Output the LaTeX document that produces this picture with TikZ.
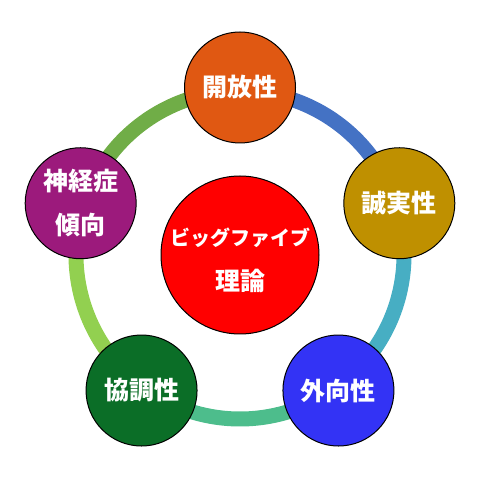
\documentclass[tikz,border=0pt]{standalone}
\usepackage{fontspec}
\usetikzlibrary{calc}
\newfontfamily\jp{Noto Sans CJK JP}
\definecolor{ringA}{HTML}{70AD47}
\definecolor{ringB}{HTML}{92D050}
\definecolor{ringC}{HTML}{4DBD8C}
\definecolor{ringD}{HTML}{47AEC3}
\definecolor{ringE}{HTML}{4472C4}
\definecolor{cOpen}{HTML}{E05812}
\definecolor{cCons}{HTML}{BF9000}
\definecolor{cExtra}{HTML}{3333F5}
\definecolor{cAgree}{HTML}{0B6E27}
\definecolor{cNeuro}{HTML}{9C1A7C}
\definecolor{cCenter}{HTML}{FF0000}
\tikzset{
  ringseg/.style={line width=15pt},
  trait/.style={circle, draw=black, line width=1pt, minimum size=111pt, inner sep=0pt,
    text=white, align=center, font=\jp\bfseries\fontsize{25}{44}\selectfont},
  core/.style={circle, draw=black, line width=1pt, minimum size=158pt, inner sep=0pt,
    fill=cCenter},
  coretext/.style={text=white, align=center, inner sep=0pt,
    font=\jp\bfseries\fontsize{20}{45}\selectfont},
}
\begin{document}
\begin{tikzpicture}[x=1pt,y=1pt]
\useasboundingbox (0,0) rectangle (480,480);
\coordinate (c) at (240,225);
% ring segments
\draw[ringseg, ringE] ([shift={(18:164)}]c) arc[start angle=18, end angle=90, radius=164];
\draw[ringseg, ringA] ([shift={(90:164)}]c) arc[start angle=90, end angle=162, radius=164];
\draw[ringseg, ringB] ([shift={(162:164)}]c) arc[start angle=162, end angle=234, radius=164];
\draw[ringseg, ringC] ([shift={(234:164)}]c) arc[start angle=234, end angle=306, radius=164];
\draw[ringseg, ringD] ([shift={(306:164)}]c) arc[start angle=306, end angle=378, radius=164];
% nodes
\node[core] (center) at (c) {};
\node[coretext] (centertext) at ($(c)+(0,-5)$) {ビッグファイブ\\{\fontsize{25}{45}\selectfont 理論}};
\node[trait, fill=cOpen]  (open)  at ($(c)+(90:167.5)$)  {開放性};
\node[trait, fill=cCons]  (cons)  at ($(c)+(18:167.5)$)  {誠実性};
\node[trait, fill=cExtra] (extra) at ($(c)+(-54:167.5)$) {外向性};
\node[trait, fill=cAgree] (agree) at ($(c)+(-126:167.5)$) {協調性};
\node[trait, fill=cNeuro] (neuro) at ($(c)+(162:167.5)$) {神経症\\傾向};
\end{tikzpicture}
\end{document}
